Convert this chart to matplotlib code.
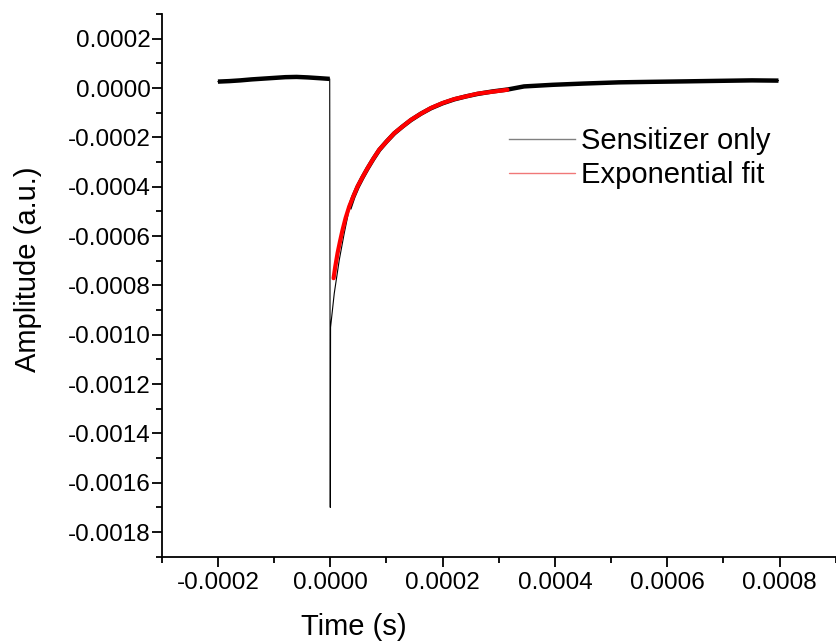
import numpy as np
import matplotlib
matplotlib.use("Agg")
import matplotlib.pyplot as plt
from matplotlib.ticker import MultipleLocator, FormatStrFormatter

plt.rcParams['font.family'] = ['Liberation Sans', 'DejaVu Sans']

# Sensitizer only trace
t_sens = [-0.000200, -0.000180, -0.000160, -0.000140, -0.000120, -0.000100,
          -0.000080, -0.000060, -0.000040, -0.000020, -0.000001,
          0.0, 0.0000005, 0.0000071, 0.000016, 0.0000249, 0.0000338,
          0.0000409, 0.0000486, 0.0000575, 0.0000664, 0.0000765, 0.0000872,
          0.0001002, 0.0001139, 0.0001287, 0.0001436, 0.0001614, 0.0001792,
          0.0001998, 0.0002206, 0.0002415, 0.0002621, 0.0002888, 0.000316,
          0.000345, 0.000396, 0.000450, 0.000514, 0.000570, 0.000633,
          0.000690, 0.000751, 0.000798]
a_sens = [0.000026, 0.000028, 0.000031, 0.000035, 0.000038, 0.000041,
          0.000044, 0.000045, 0.000043, 0.000040, 0.000037,
          -0.00170, -0.00097, -0.000832, -0.000697, -0.000588, -0.000490,
          -0.000442, -0.000401, -0.000362, -0.000326, -0.000288, -0.000251,
          -0.000217, -0.000184, -0.000156, -0.000130, -0.000104, -0.000082,
          -0.000062, -0.000046, -0.000034, -0.000024, -0.000014, -0.000006,
          0.0000065, 0.000013, 0.000018, 0.000023, 0.000025, 0.000027,
          0.000029, 0.000031, 0.000030]

# Exponential fit curve
t_fit = [0.0000059, 0.0000089, 0.000013, 0.0000173, 0.0000219, 0.0000273,
         0.0000338, 0.0000409, 0.0000486, 0.0000575, 0.0000664, 0.0000765,
         0.0000872, 0.0001002, 0.0001139, 0.0001287, 0.0001436, 0.0001614,
         0.0001792, 0.0001998, 0.0002206, 0.0002415, 0.0002621, 0.0002888,
         0.0003155]
a_fit = [-0.000771, -0.000724, -0.000669, -0.000622, -0.000575, -0.000527,
         -0.000480, -0.000440, -0.000399, -0.000361, -0.000325, -0.000287,
         -0.000250, -0.000217, -0.000183, -0.000156, -0.000129, -0.000104,
         -0.000081, -0.000061, -0.000045, -0.000034, -0.000023, -0.000015,
         -0.000007]

x_ticks = [-0.0002, 0.0, 0.0002, 0.0004, 0.0006, 0.0008]
y_ticks = [0.0002, 0.0, -0.0002, -0.0004, -0.0006, -0.0008, -0.0010,
           -0.0012, -0.0014, -0.0016, -0.0018]

fig = plt.figure(figsize=(8.37, 6.43), dpi=100)
ax = fig.add_axes([0.1933, 0.1342, 0.8052, 0.844])

t = np.array(t_sens)
a = np.array(a_sens)
ln_sens, = ax.plot(t, a, color='black', lw=0.8, label='Sensitizer only')
# noisy parts of the trace look like a thick band
a_band = np.ma.masked_where((t >= 0) & (t < 0.00003), a)
ax.plot(t, a_band, color='black', lw=3.2, solid_capstyle='butt',
        solid_joinstyle='round')
ln_fit, = ax.plot(t_fit, a_fit, color='#ff0000', lw=3.0,
                  solid_capstyle='round', solid_joinstyle='round',
                  label='Exponential fit')

ax.set_xlim(-0.0003, 0.0009)
ax.set_ylim(-0.0019, 0.0003)
ax.set_xticks(x_ticks)
ax.set_yticks(y_ticks)
ax.xaxis.set_minor_locator(MultipleLocator(0.0001))
ax.yaxis.set_minor_locator(MultipleLocator(0.0001))
ax.xaxis.set_major_formatter(FormatStrFormatter('%.4f'))
ax.yaxis.set_major_formatter(FormatStrFormatter('%.4f'))

for s in ['top', 'right']:
    ax.spines[s].set_visible(False)
for s in ['left', 'bottom']:
    ax.spines[s].set_linewidth(1.3)

ax.tick_params(which='major', direction='out', length=7, width=1.3,
               labelsize=17.5)
ax.tick_params(which='minor', direction='out', length=4, width=1.3)
ax.tick_params(axis='x', which='major', pad=4)
ax.tick_params(axis='y', which='major', pad=1)

ax.set_xlabel('Time (s)', fontsize=21, va='center')
ax.xaxis.set_label_coords(0.285, -0.130)
ax.set_ylabel('Amplitude (a.u.)', fontsize=21, va='center')
ax.yaxis.set_label_coords(-0.199, 0.530)

leg = ax.legend(handles=[ln_sens, ln_fit], loc='upper left',
                bbox_to_anchor=(0.515, 0.792), frameon=False, fontsize=21,
                handlelength=2.25, handletextpad=0.22, labelspacing=0.2,
                borderpad=0, borderaxespad=0)
h = leg.legend_handles
h[0].set_color('#808080')
h[0].set_linewidth(1.0)
h[1].set_color('#f07878')
h[1].set_linewidth(1.0)

fig.savefig('out.png', dpi=100)
